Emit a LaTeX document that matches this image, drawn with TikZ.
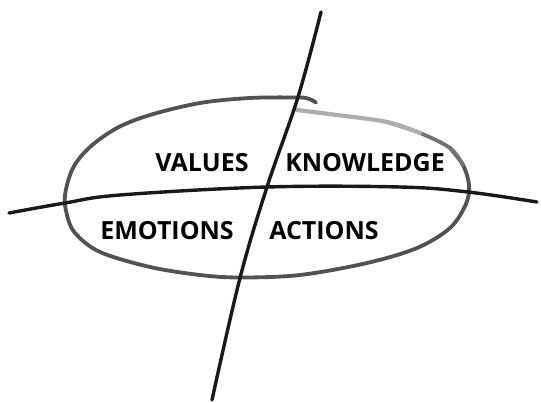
\documentclass[tikz,border=0pt]{standalone}
\usepackage{fontspec}
\setmainfont{Open Sans}
\begin{document}
\begin{tikzpicture}[x=1pt,y=-1pt,
  pencil/.style={line width=3.4pt, line cap=round, line join=round, draw=black!90},
  soft/.style={line width=3.8pt, line cap=round, line join=round, draw=black!68},
  word/.style={font=\fontsize{25}{27}\selectfont\bfseries, inner sep=0pt, text=black}]
\useasboundingbox (0,0) rectangle (541,403);
\fill[white] (0,0) rectangle (541,403);
% ellipse drawn as one pencil stroke, fading out over the top right
\draw[soft] plot[smooth, tension=0.55] coordinates {(316,102.5) (308,98.5) (297,97.5) (250,98) (200,103) (150,115) (117,128) (90,147) (73,168) (65,195) (67,215) (75,233) (100,252) (150,267) (200,275) (240,277.5) (300,275) (367,263) (417,248) (450,228) (466,204) (469,185) (463,165) (450,148)};
\draw[soft, draw=black!55] plot[smooth, tension=0.55] coordinates {(463,165) (450,148) (420,133) (387,122)};
\draw[soft, draw=black!32, line width=4.2pt] plot[smooth, tension=0.55] coordinates {(420,133) (387,122) (337,115) (297,110)};
% horizontal line
\draw[pencil] plot[smooth, tension=0.6] coordinates {(9,213) (65,203) (120,195) (267,187) (400,187) (468,192) (537,202)};
% vertical line
\draw[pencil] plot[smooth, tension=0.6] coordinates {(321,12) (298,97) (267,187) (240,278) (212,400)};
% labels
\node[word] (values) at (202,163) {VALUES};
\node[word] (knowledge) at (365,163) {KNOWLEDGE};
\node[word] (emotions) at (167,231) {EMOTIONS};
\node[word] (actions) at (324,231) {ACTIONS};
\end{tikzpicture}
\end{document}
